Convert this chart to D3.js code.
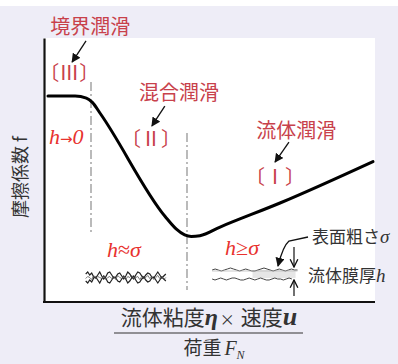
<!DOCTYPE html>
<html>
<head>
<meta charset="utf-8">
<script src="https://cdn.jsdelivr.net/npm/d3@7"></script>
<style>
  html, body { margin: 0; padding: 0; background: #ffffff; }
  svg { display: block; }
  .jp { font-family: "Noto Sans CJK JP", "Noto Sans", sans-serif; }
  .math { font-family: "Liberation Serif", "DejaVu Serif", serif; font-style: italic; }
</style>
</head>
<body>
<svg id="chart" width="398" height="364"></svg>
<script>
// Stribeck curve: film parameter (x) vs friction coefficient (y), both in relative units 0–100
const filmParam = [1.2, 9.4, 12.8, 14.6, 17.0, 36.6, 40.0, 42.5, 44.5, 47.1, 53.2, 71.3, 99.4];
const friction  = [78.0, 78.0, 77.2, 75.6, 71.4, 32.4, 27.6, 25.4, 24.8, 25.1, 28.4, 37.5, 53.2];

// regime boundaries (x) and the vertical extent of each boundary line (y)
const boundaryX    = [14.2, 43.2];
const boundaryTop  = [83.3, 64.0];
const boundaryBot  = [26.5, 4.5];

// regime names and their roman-numeral tags
const regimeNames = ["境界潤滑", "混合潤滑", "流体潤滑"];
const regimeTags  = ["〔Ⅲ〕", "〔Ⅱ〕", "〔Ⅰ〕"];
const regimeNameX = [14.0, 40.8, 76.2];
const regimeNameY = [101.5, 76.5, 62.0];
const regimeTagX  = [7.6, 32.3, 69.8];
const regimeTagY  = [84.1, 59.1, 44.7];
// pointer arrows from each name down to its tag: [x1, y1, x2, y2]
const arrowFrom   = [[12.7, 98.9], [36.5, 74.2], [74.0, 60.6]];
const arrowTo     = [[8.5, 90.9], [32.6, 66.7], [69.8, 53.0]];

// film-thickness relations shown in each regime
const filmLabels  = ["→0", "≈σ", "≥σ"];
const filmLabelX  = [1.5, 19.0, 54.7];
const filmLabelY  = [60.0, 17.0, 17.8];

// surface profile offsets (px), sampled evenly along each sketch
const contactUpper = [0,-2,1,-1,3,4,1,-2,2,5,3,-1,-2,1,4,3,0,-1,2,5,2,-2,0,3,5,1,-2,-1,2,4,1,-1,0,3,4,1,-2,1,4,2,0];
const contactLower = [0,2,-1,1,-3,-4,-1,2,-2,-5,-3,1,2,-1,-4,-3,0,1,-2,-5,-2,2,0,-3,-5,-1,2,1,-2,-4,-1,1,0,-3,-4,-1,2,-1,-4,-2,0];
const contactNoise = [1,-1,0,2,-2,1,-1,0,1,-2,2,0,-1,1,-1,2,-2,0,1,-1,2,-1,0,-2,1,0,-1,2,-1,1,0,-2,1,-1,2,0,-2,1,-1,2,0];
const filmUpper    = [0,-1,0,1,0,-1,-2,-1,0,1,0,-1,0,1,1,0,-1,-2,-1,0,1,0,-1,0,1,0,-1,0,0];
const filmLower    = [0,1,0,-1,0,1,0,-1,-1,0,1,1,0,-1,0,1,0,-1,0,1,1,0,-1,0,0,1,0,-1,0];

const svg = d3.select("#chart");
const W = 398, H = 364;
const plot = { left: 44, right: 375, top: 38, bottom: 302 };

// page backdrop
svg.append("rect").attr("x", 0).attr("y", 0).attr("width", W).attr("height", H).attr("fill", "#ffffff");
svg.append("rect").attr("x", 0).attr("y", 6).attr("width", W).attr("height", H - 6).attr("fill", "#eeedf7");
svg.append("rect").attr("x", plot.left - 1).attr("y", plot.top)
   .attr("width", plot.right - plot.left + 1).attr("height", plot.bottom - plot.top + 1)
   .attr("fill", "#ffffff");

const x = d3.scaleLinear().domain([0, 100]).range([plot.left, plot.right]);
const y = d3.scaleLinear().domain([0, 100]).range([plot.bottom, plot.top]);

// axes without ticks
const gx = svg.append("g").attr("transform", `translate(0,${plot.bottom})`)
  .call(d3.axisBottom(x).ticks(0).tickSizeOuter(0));
const gy = svg.append("g").attr("transform", `translate(${plot.left},0)`)
  .call(d3.axisLeft(y).ticks(0).tickSizeOuter(0));
[gx, gy].forEach(g => g.select(".domain").attr("stroke", "#111").attr("stroke-width", 2.2));
gx.select(".domain").attr("d", `M${plot.left - 1},0H${plot.right}`);

// regime boundary lines
svg.selectAll("line.boundary").data(boundaryX).join("line")
  .attr("class", "boundary")
  .attr("x1", d => x(d)).attr("x2", d => x(d))
  .attr("y1", (d, i) => y(boundaryTop[i])).attr("y2", (d, i) => y(boundaryBot[i]))
  .attr("stroke", "#aaaaaa").attr("stroke-width", 1.6)
  .attr("stroke-dasharray", "9,3,2,3");

// friction curve
const pts = filmParam.map((v, i) => [v, friction[i]]);
svg.append("path").datum(pts)
  .attr("d", d3.line().x(d => x(d[0])).y(d => y(d[1])).curve(d3.curveMonotoneX))
  .attr("fill", "none").attr("stroke", "#000").attr("stroke-width", 3)
  .attr("stroke-linejoin", "round").attr("stroke-linecap", "round");

// arrow markers
const defs = svg.append("defs");
defs.append("marker").attr("id", "ah").attr("viewBox", "0 0 10 10")
  .attr("refX", 9).attr("refY", 5).attr("markerWidth", 7).attr("markerHeight", 7)
  .attr("orient", "auto")
  .append("path").attr("d", "M0,0L10,5L0,10z").attr("fill", "#111");
defs.append("marker").attr("id", "ao").attr("viewBox", "0 0 10 10")
  .attr("refX", 9).attr("refY", 5).attr("markerWidth", 8).attr("markerHeight", 8)
  .attr("orient", "auto")
  .append("path").attr("d", "M1,1L9,5L1,9").attr("fill", "none").attr("stroke", "#111").attr("stroke-width", 1.4);

// regime names, tags and pointer arrows
const regimeColor = "#c8414b";
svg.selectAll("text.rname").data(regimeNames).join("text")
  .attr("class", "rname jp").attr("x", (d, i) => x(regimeNameX[i])).attr("y", (d, i) => y(regimeNameY[i]))
  .attr("text-anchor", "middle").attr("font-size", 20).attr("fill", regimeColor).text(d => d);
svg.selectAll("text.rtag").data(regimeTags).join("text")
  .attr("class", "rtag jp").attr("x", (d, i) => x(regimeTagX[i])).attr("y", (d, i) => y(regimeTagY[i]))
  .attr("text-anchor", "middle").attr("font-size", 20).attr("fill", regimeColor).text(d => d);
svg.selectAll("path.rarrow").data(arrowFrom).join("path")
  .attr("class", "rarrow")
  .attr("d", (d, i) => `M${x(d[0])},${y(d[1])}L${x(arrowTo[i][0])},${y(arrowTo[i][1])}`)
  .attr("fill", "none").attr("stroke", "#111").attr("stroke-width", 1.3).attr("marker-end", "url(#ah)");

// film-thickness relation labels
const fl = svg.selectAll("text.flabel").data(filmLabels).join("text")
  .attr("class", "flabel math").attr("x", (d, i) => x(filmLabelX[i])).attr("y", (d, i) => y(filmLabelY[i]))
  .attr("font-size", 22).attr("fill", "#e8322e");
fl.append("tspan").text("h");
fl.append("tspan").attr("font-style", "normal")
  .attr("font-family", (d, i) => i === 0 ? "DejaVu Sans" : null)
  .attr("font-size", (d, i) => i === 0 ? 15 : 22)
  .text(d => d.slice(0, 1));
fl.append("tspan").attr("font-style", "italic").text(d => d.slice(1));

// surface sketches
function profile(offsets, x0, x1, yBase) {
  const sx = d3.scaleLinear().domain([0, offsets.length - 1]).range([x0, x1]);
  return d3.line().x((d, i) => sx(i)).y(d => yBase + d)(offsets);
}
const sketch = svg.append("g").attr("fill", "none").attr("stroke", "#222").attr("stroke-width", 1);
sketch.append("path").attr("d", profile(contactUpper, x(12.6), x(36.8), 274)).attr("stroke-width", 1.2);
sketch.append("path").attr("d", profile(contactLower, x(12.6), x(36.8), 281)).attr("stroke-width", 1.2);
sketch.append("path").attr("d", profile(contactNoise, x(12.6), x(36.8), 277.5)).attr("stroke", "#555").attr("stroke-width", 0.8);
sketch.append("rect").attr("x", x(63) ).attr("y", 270).attr("width", x(76) - x(63)).attr("height", 8)
  .attr("fill", "#e6e6e6").attr("stroke", "none");
sketch.append("path").attr("d", profile(filmUpper, x(50.8), x(76.6), 270)).attr("stroke", "#444");
sketch.append("path").attr("d", profile(filmLower, x(50.8), x(74.9), 279)).attr("stroke", "#444");
sketch.append("line").attr("x1", x(50.8)).attr("x2", x(76.6)).attr("y1", 271).attr("y2", 271).attr("stroke", "#bbb").attr("stroke-width", 0.8);

// film thickness arrows
sketch.append("line").attr("x1", 294).attr("x2", 294).attr("y1", 247).attr("y2", 267)
  .attr("stroke", "#111").attr("stroke-width", 1.2).attr("marker-end", "url(#ao)");
sketch.append("line").attr("x1", 294).attr("x2", 294).attr("y1", 296).attr("y2", 280)
  .attr("stroke", "#111").attr("stroke-width", 1.2).attr("marker-end", "url(#ao)");

// roughness pointer
sketch.append("path").attr("d", "M308,237 L289,241 Q283,246 278,266")
  .attr("stroke", "#111").attr("stroke-width", 1.3).attr("marker-end", "url(#ah)");

// sketch captions
const cap1 = svg.append("text").attr("x", 312).attr("y", 243).attr("font-size", 17).attr("fill", "#333");
cap1.append("tspan").attr("class", "jp").text("表面粗さ");
cap1.append("tspan").attr("class", "math").attr("font-size", 19).text("σ");
const cap2 = svg.append("text").attr("x", 308).attr("y", 282).attr("font-size", 17).attr("fill", "#333");
cap2.append("tspan").attr("class", "jp").text("流体膜厚");
cap2.append("tspan").attr("class", "math").attr("font-size", 19).text("h");

// y-axis title
svg.append("text").attr("class", "jp")
  .attr("transform", "translate(27,177) rotate(-90)")
  .attr("text-anchor", "middle").attr("font-size", 18).attr("fill", "#333")
  .text("摩擦係数 f");

// x-axis title as a fraction
const num = svg.append("text").attr("x", 209).attr("y", 325).attr("text-anchor", "middle")
  .attr("font-size", 21).attr("fill", "#333");
num.append("tspan").attr("class", "jp").text("流体粘度");
num.append("tspan").attr("class", "math").attr("font-weight", "bold").attr("font-size", 24).text("η");
num.append("tspan").attr("class", "jp").attr("font-size", 15).attr("dx", 2).text("×");
num.append("tspan").attr("class", "jp").attr("dx", 6).text("速度");
num.append("tspan").attr("class", "math").attr("font-weight", "bold").attr("font-size", 26).text("u");
svg.append("line").attr("x1", 114).attr("x2", 303).attr("y1", 333).attr("y2", 333)
  .attr("stroke", "#333").attr("stroke-width", 1.2);
const den = svg.append("text").attr("x", 214).attr("y", 355).attr("text-anchor", "middle")
  .attr("font-size", 19).attr("fill", "#333");
den.append("tspan").attr("class", "jp").text("荷重");
den.append("tspan").attr("class", "math").attr("font-size", 20).attr("dx", 3).text("F");
den.append("tspan").attr("class", "math").attr("font-size", 12).attr("dy", 4).text("N");
</script>
</body>
</html>
